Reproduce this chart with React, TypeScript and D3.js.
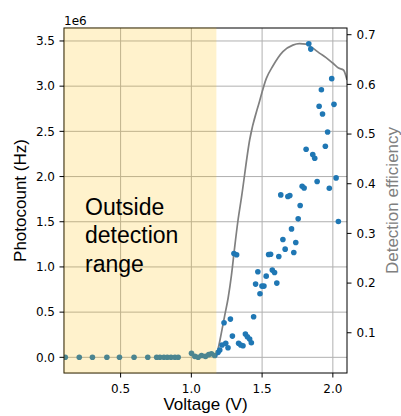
import React from 'react';
import * as d3 from 'd3';

// Scatter data: voltage (V) and photocount (×1e6 Hz)
const voltage = [
  0.109, 0.208, 0.301, 0.403, 0.492, 0.595, 0.692,
  0.755, 0.778, 0.806, 0.830, 0.856, 0.884, 0.907,
  1.001, 1.025, 1.048, 1.072, 1.100, 1.123, 1.142, 1.165,
  1.189, 1.201, 1.217, 1.231, 1.243, 1.259, 1.276, 1.290, 1.301, 1.320,
  1.334, 1.349, 1.365, 1.382, 1.396, 1.412, 1.424, 1.440, 1.454, 1.470,
  1.485, 1.499, 1.513, 1.529, 1.546, 1.560, 1.572, 1.588, 1.604, 1.618,
  1.632, 1.647, 1.663, 1.682, 1.696, 1.708, 1.724, 1.738, 1.755, 1.769,
  1.783, 1.797, 1.811, 1.830, 1.844, 1.858, 1.872, 1.889, 1.903, 1.919,
  1.927, 1.947, 1.963, 1.975, 1.992, 2.008, 2.023, 2.039,
];
const photocount = [
  0.0, 0.0, 0.0, 0.0, 0.0, 0.0, 0.0,
  0.0, 0.0, 0.0, 0.0, 0.0, 0.0, 0.0,
  0.044, 0.01, 0.0, 0.02, 0.01, 0.03, 0.04, 0.02,
  0.055, 0.081, 0.136, 0.382, 0.155, 0.106, 0.423, 0.235, 1.149, 1.134,
  0.155, 0.136, 0.128, 0.257, 0.228, 0.202, 0.161, 0.449, 0.810, 0.946,
  0.703, 0.788, 0.788, 0.898, 1.138, 1.141, 0.965, 0.939, 0.821, 1.116,
  1.797, 1.304, 1.197, 1.779, 1.790, 1.421, 1.160, 1.271, 1.532, 1.680,
  1.893, 1.874, 2.302, 3.470, 3.410, 2.243, 2.202, 1.945, 2.777, 2.961,
  2.692, 2.335, 2.493, 1.871, 3.083, 2.799, 1.985, 1.503,
];

// Detection efficiency curve
const effVoltage = [
  1.177, 1.200, 1.236, 1.260, 1.283, 1.306, 1.330, 1.354, 1.412, 1.482,
  1.530, 1.576, 1.647, 1.717, 1.764, 1.811, 1.858, 1.905, 1.952, 1.999,
  2.040, 2.075, 2.100,
];
const efficiency = [
  0.052, 0.082, 0.135, 0.170, 0.215, 0.272, 0.327, 0.372, 0.488, 0.566,
  0.612, 0.637, 0.666, 0.679, 0.682, 0.681, 0.673, 0.663, 0.654, 0.643,
  0.633, 0.629, 0.609,
];

const xTicks = [0.5, 1.0, 1.5, 2.0];
const yTicks = [0.0, 0.5, 1.0, 1.5, 2.0, 2.5, 3.0, 3.5];
const effTicks = [0.1, 0.2, 0.3, 0.4, 0.5, 0.6, 0.7];
const shadeEnd = 1.177;
const shadeLines = ['Outside', 'detection', 'range'];

export default function App() {
  const W = 401, H = 416;
  const L = 64, T = 28, R = 347, B = 373;
  const x = d3.scaleLinear().domain([0.1, 2.1]).range([L, R]);
  const y = d3.scaleLinear().domain([-0.1735, 3.6435]).range([B, T]);
  const y2 = d3.scaleLinear().domain([0.019, 0.7135]).range([B, T]);
  const line = d3
    .line<number>()
    .x((_, i) => x(effVoltage[i]))
    .y((d) => y2(d))
    .curve(d3.curveMonotoneX);
  const tickFont = 'DejaVu Sans, sans-serif';
  const labelFont = 'Liberation Sans, Arial, sans-serif';
  const tickSize = 12;

  return (
    <svg width={W} height={H} style={{ position: 'absolute', left: 0, top: 0 }}>
      <defs>
        <clipPath id="plot">
          <rect x={L} y={T} width={R - L} height={B - T} />
        </clipPath>
      </defs>
      <rect x={0} y={0} width={W} height={H} fill="#fff" />
      {/* grid */}
      {xTicks.map((t) => (
        <line key={'gx' + t} x1={x(t)} x2={x(t)} y1={T} y2={B} stroke="#b0b0b0" strokeWidth={1} />
      ))}
      {yTicks.map((t) => (
        <line key={'gy' + t} x1={L} x2={R} y1={y(t)} y2={y(t)} stroke="#b0b0b0" strokeWidth={1} />
      ))}
      <g clipPath="url(#plot)">
        <path d={line(efficiency) || ''} fill="none" stroke="#808080" strokeWidth={1.7} />
        {voltage.map((v, i) => (
          <circle key={'p' + i} cx={x(v)} cy={y(photocount[i])} r={2.8} fill="#1f77b4" />
        ))}
      </g>
      {/* spines */}
      <rect x={L} y={T} width={R - L} height={B - T} fill="none" stroke="#000" strokeWidth={1} />
      {/* shaded region */}
      <rect x={x(0.1) - 0.5} y={T - 0.5} width={x(shadeEnd) - x(0.1) + 0.5} height={B - T + 1} fill="#ffc000" fillOpacity={0.2} />
      {/* x ticks */}
      {xTicks.map((t) => (
        <g key={'xt' + t}>
          <line x1={x(t)} x2={x(t)} y1={B} y2={B + 4.5} stroke="#000" />
          <text x={x(t)} y={392.5} textAnchor="middle" fontFamily={tickFont} fontSize={tickSize} fill="#000">
            {t.toFixed(1)}
          </text>
        </g>
      ))}
      {/* left y ticks */}
      {yTicks.map((t) => (
        <g key={'yt' + t}>
          <line x1={L - 4.5} x2={L} y1={y(t)} y2={y(t)} stroke="#000" />
          <text x={55} y={y(t)} dy="0.36em" textAnchor="end" fontFamily={tickFont} fontSize={tickSize} fill="#000">
            {t.toFixed(1)}
          </text>
        </g>
      ))}
      {/* right y ticks */}
      {effTicks.map((t) => (
        <g key={'rt' + t}>
          <line x1={R} x2={R + 4.5} y1={y2(t)} y2={y2(t)} stroke="#000" />
          <text x={356.5} y={y2(t)} dy="0.36em" textAnchor="start" fontFamily={tickFont} fontSize={tickSize} fill="#000">
            {t.toFixed(1)}
          </text>
        </g>
      ))}
      <text x={L} y={24.5} fontFamily={tickFont} fontSize={tickSize} fill="#000">1e6</text>
      {/* labels */}
      <text x={(L + R) / 2} y={410} textAnchor="middle" fontFamily={labelFont} fontSize={17} fill="#000">
        Voltage (V)
      </text>
      <text transform={`translate(26,${(T + B) / 2}) rotate(-90)`} textAnchor="middle" fontFamily={labelFont} fontSize={17} fill="#000">
        Photocount (Hz)
      </text>
      <text transform={`translate(397.5,${(T + B) / 2}) rotate(-90)`} textAnchor="middle" fontFamily={labelFont} fontSize={17} fill="#808080">
        Detection efficiency
      </text>
      {shadeLines.map((s, i) => (
        <text key={s} x={85} y={215 + i * 28.4} fontFamily={labelFont} fontSize={23} fill="#000">
          {s}
        </text>
      ))}
    </svg>
  );
}
